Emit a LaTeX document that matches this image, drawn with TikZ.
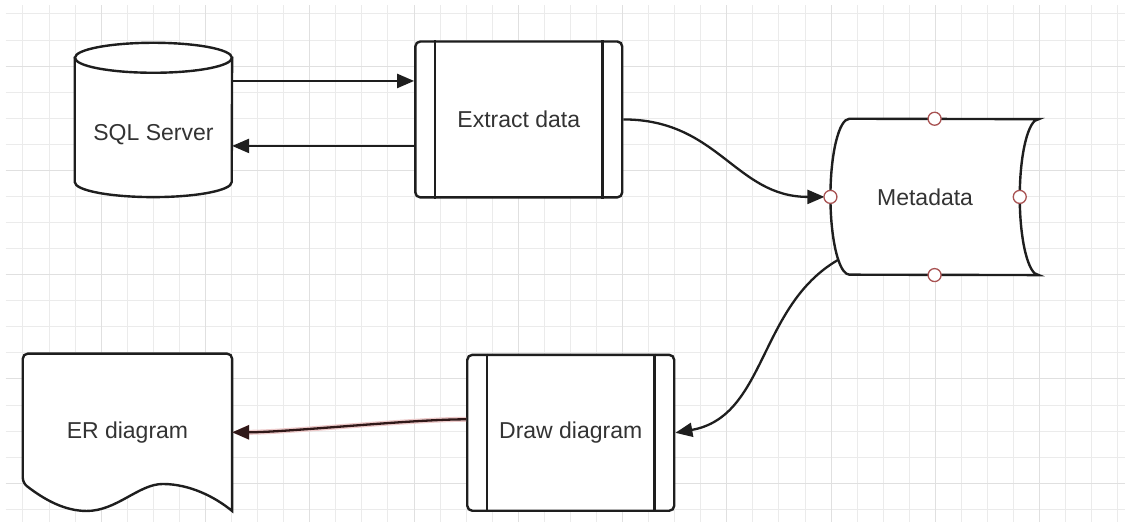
\documentclass[tikz,border=0pt]{standalone}
\usepackage{fontspec}
\setmainfont{Liberation Sans}
\usetikzlibrary{arrows.meta,positioning,calc,backgrounds}
\definecolor{gridminor}{HTML}{EBEBEB}
\definecolor{gridmajor}{HTML}{E0E0E0}
\definecolor{inkline}{HTML}{1E1E1E}
\definecolor{inktext}{HTML}{333333}
\definecolor{portred}{HTML}{A85252}
\definecolor{glowpink}{HTML}{EDCACA}
\definecolor{selink}{HTML}{301818}
\newcommand{\diagfont}{\fontsize{23}{28}\selectfont}

\begin{document}
\begin{tikzpicture}[x=1pt, y=1pt,
  box/.style={rectangle, draw=inkline, line width=2.4pt, fill=white,
              rounded corners=5pt, minimum width=207pt, minimum height=156pt,
              font=\diagfont, text=inktext},
  plain/.style={rectangle, inner sep=0pt, font=\diagfont, text=inktext},
  outline/.style={draw=inkline, line width=2.4pt, fill=white},
  bar/.style={draw=inkline, line width=2.4pt},
  port/.style={circle, draw=portred, line width=1.3pt, fill=white,
               minimum size=13pt, inner sep=0pt},
  flow/.style={draw=inkline, line width=2.3pt, -{Triangle[length=17pt,width=14pt]}}
]
  % Grid
  \begin{scope}[on background layer]
    \fill[white] (0,0) rectangle (1125,522);
    \foreach \k in {0,...,42}
      \draw[gridminor, line width=1pt] ({23+26.08*\k},0) -- ({23+26.08*\k},517);
    \foreach \k in {0,...,19}
      \draw[gridminor, line width=1pt] (6,{508-26.08*\k}) -- (1125,{508-26.08*\k});
    \foreach \k in {3,7,...,39}
      \draw[gridmajor, line width=1pt] ({23+26.08*\k},0) -- ({23+26.08*\k},517);
    \foreach \k in {2,6,...,18}
      \draw[gridmajor, line width=1pt] (6,{508-26.08*\k}) -- (1125,{508-26.08*\k});
  \end{scope}

  % Blocks
  \node[plain, minimum width=157pt, minimum height=124pt] (sql) at (153.5,387) {SQL Server};
  \node[box] (ext) at (519,402.5) {Extract data};
  \node[plain, minimum width=189pt, minimum height=156pt] (meta) at (925.5,325) {Metadata};
  \node[box] (drw) at (571,89) {Draw diagram};
  \node[plain, minimum width=209pt, minimum height=157pt] (er) at (127.5,89.5) {ER diagram};

  % Shape outlines
  \begin{scope}[on background layer]
    \draw[outline] ([yshift=15]sql.north west) -- ([yshift=15]sql.south west)
      arc[start angle=180, end angle=360, x radius=78.5, y radius=15]
      -- ([yshift=15]sql.north east) -- cycle;
    \draw[outline] ([yshift=15]sql.north) ellipse[x radius=78.5, y radius=15];
    \draw[outline] ([xshift=19]meta.north west)
      arc[start angle=90, end angle=234, x radius=19, y radius=78] coordinate (metaout)
      arc[start angle=234, end angle=270, x radius=19, y radius=78]
      -- ([xshift=19]meta.south east)
      arc[start angle=270, end angle=90, x radius=19, y radius=78] -- cycle;
    \draw[outline] (er.south east) [rounded corners=5pt] -- (er.north east)
      -- (er.north west) -- ([yshift=28]er.south west) [sharp corners]
      .. controls +(22,-17) and +(-22,0) .. ($(er.south west)+(64,0)$)
      .. controls +(30,0) and +(-24,0) .. ($(er.south west)+(140,27)$)
      .. controls +(27,0) and +(-17,14) .. (er.south east) -- cycle;
  \end{scope}

  % Process bars
  \foreach \b in {ext,drw} {
    \draw[bar] ([xshift=21]\b.north west) -- ([xshift=21]\b.south west);
    \draw[bar] ([xshift=-21]\b.north east) -- ([xshift=-21]\b.south east);
  }

  % Arrows
  \draw[flow] ([yshift=54]sql.east) -- ([yshift=38.5]ext.west);
  \draw[flow] ([yshift=-26.5]ext.west) -- ([yshift=-11]sql.east);
  \draw[flow, shorten >=6pt] (ext.east) to[out=0, in=180, looseness=1.1] (meta.west);
  \draw[flow] (metaout) to[out=210, in=10] (drw.east);
  \draw[flow, draw=selink, preaction={draw=glowpink, line width=5pt}]
    ([yshift=13.5]drw.west) to[out=180, in=0, looseness=0.6] (er.east);

  % Connection points
  \node[port] (metaN) at ([xshift=9.5]meta.north) {};
  \node[port] (metaS) at ([xshift=9.5]meta.south) {};
  \node[port] (metaW) at (meta.west) {};
  \node[port] (metaE) at (meta.east) {};
\end{tikzpicture}
\end{document}
